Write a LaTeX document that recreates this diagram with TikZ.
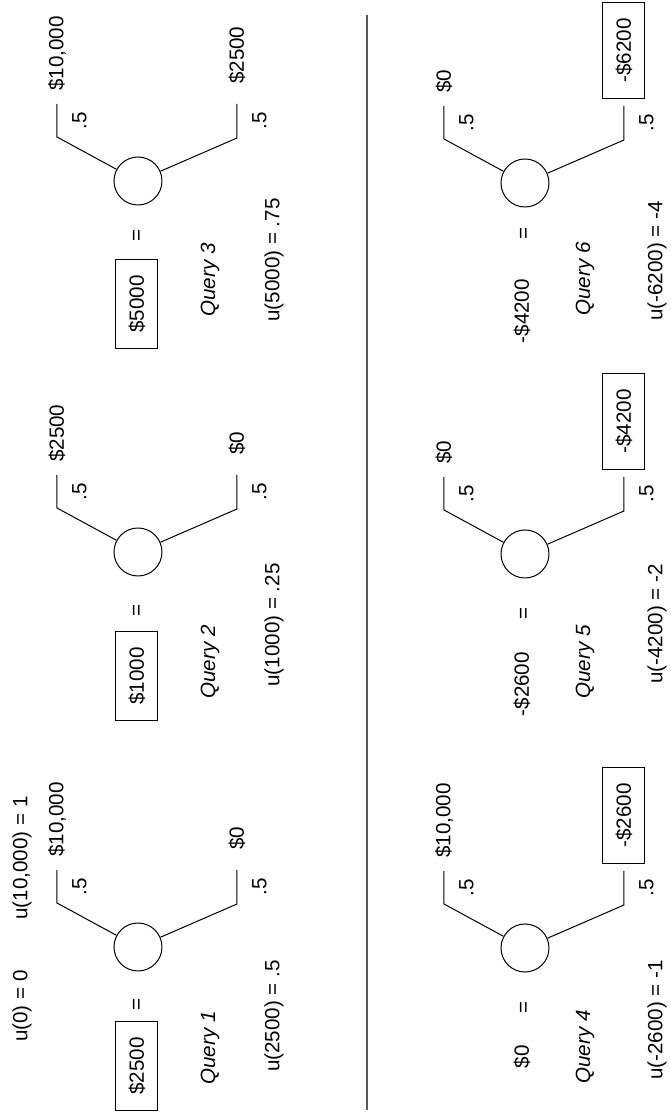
\documentclass[tikz,border=0pt]{standalone}
\usepackage{fontspec}
\setmainfont{Liberation Sans}
\usetikzlibrary{positioning}

\begin{document}
\begin{tikzpicture}[x=0.5pt,y=0.5pt,rotate=90,transform shape,line width=0.5pt,
        font=\fontsize{10.3pt}{12pt}\selectfont,
        chance/.style={draw,circle,minimum size=24pt,inner sep=0pt},
        sure/.style={draw,minimum height=21pt,inner xsep=8pt},
        prob/.style={below=4pt},
        query/.style={font=\fontsize{10.3pt}{12pt}\selectfont\itshape}]
    \useasboundingbox (0,0) rectangle (1114,670);
    % utilities fixed at the ends
    \node (u0) at (108,648) {u(0) = 0};
    \node (u10) at (256,648) {u(10,000) = 1};

    % query 1
    \node[sure] (s1) at (48,533) {\$2500};
    \node (eq1) at (110,532) {=};
    \node[chance] (c1) at (167,532) {};
    \coordinate (k1a) at (211,613); \coordinate (e1a) at (244,613);
    \coordinate (k1b) at (210,433); \coordinate (e1b) at (244,433);
    \draw (c1) -- (k1a) -- node[prob] {.5} (e1a);
    \draw (c1) -- (k1b) -- node[prob] {.5} (e1b);
    \node[right=3pt] (o1a) at (e1a) {\$10,000};
    \node[right=6.5pt] (o1b) at (e1b) {\$0};
    \node[query] (q1) at (66,460) {Query 1};
    \node (r1) at (98,396) {u(2500) = .5};

    % query 2
    \node[sure] (s2) at (438,533) {\$1000};
    \node (eq2) at (504,532) {=};
    \node[chance] (c2) at (562,532) {};
    \coordinate (k2a) at (606,613); \coordinate (e2a) at (639,613);
    \coordinate (k2b) at (605,433); \coordinate (e2b) at (639,433);
    \draw (c2) -- (k2a) -- node[prob] {.5} (e2a);
    \draw (c2) -- (k2b) -- node[prob] {.5} (e2b);
    \node[right=3pt] (o2a) at (e2a) {\$2500};
    \node[right=6.5pt] (o2b) at (e2b) {\$0};
    \node[query] (q2) at (452,460) {Query 2};
    \node (r2) at (489,396) {u(1000) = .25};

    % query 3
    \node[sure] (s3) at (810,533) {\$5000};
    \node (eq3) at (879,532) {=};
    \node[chance] (c3) at (933,532) {};
    \coordinate (k3a) at (977,613); \coordinate (e3a) at (1010,613);
    \coordinate (k3b) at (976,433); \coordinate (e3b) at (1010,433);
    \draw (c3) -- (k3a) -- node[prob] {.5} (e3a);
    \draw (c3) -- (k3b) -- node[prob] {.5} (e3b);
    \node[right=3pt] (o3a) at (e3a) {\$10,000};
    \node[right=6.5pt] (o3b) at (e3b) {\$2500};
    \node[query] (q3) at (834,460) {Query 3};
    \node (r3) at (854,396) {u(5000) = .75};

    \draw[black!65,line width=0.9pt] (4,303) -- (1099,303);

    % query 4
    \node[left] (s4) at (76,148) {\$0};
    \node (eq4) at (107,145) {=};
    \node[chance] (c4) at (166,145) {};
    \coordinate (k4a) at (210,226); \coordinate (e4a) at (243,226);
    \coordinate (k4b) at (209,46); \coordinate (e4b) at (243,46);
    \draw (c4) -- (k4a) -- node[prob] {.5} (e4a);
    \draw (c4) -- (k4b) -- node[prob] {.5} (e4b);
    \node[right=3pt] (o4a) at (e4a) {\$10,000};
    \node[sure,right=3.5pt] (o4b) at (e4b) {-\$2600};
    \node[query] (q4) at (67,85) {Query 4};
    \node (r4) at (94,13) {u(-2600) = -1};

    % query 5
    \node[left] (s5) at (469,148) {-\$2600};
    \node (eq5) at (501,145) {=};
    \node[chance] (c5) at (560,145) {};
    \coordinate (k5a) at (604,226); \coordinate (e5a) at (637,226);
    \coordinate (k5b) at (603,46); \coordinate (e5b) at (637,46);
    \draw (c5) -- (k5a) -- node[prob] {.5} (e5a);
    \draw (c5) -- (k5b) -- node[prob] {.5} (e5b);
    \node[right=3pt] (o5a) at (e5a) {\$0};
    \node[sure,right=3.5pt] (o5b) at (e5b) {-\$4200};
    \node[query] (q5) at (452,85) {Query 5};
    \node (r5) at (490,13) {u(-4200) = -2};

    % query 6
    \node[left] (s6) at (842,148) {-\$4200};
    \node (eq6) at (881,145) {=};
    \node[chance] (c6) at (931,145) {};
    \coordinate (k6a) at (975,226); \coordinate (e6a) at (1008,226);
    \coordinate (k6b) at (974,46); \coordinate (e6b) at (1008,46);
    \draw (c6) -- (k6a) -- node[prob] {.5} (e6a);
    \draw (c6) -- (k6b) -- node[prob] {.5} (e6b);
    \node[right=3pt] (o6a) at (e6a) {\$0};
    \node[sure,right=3.5pt] (o6b) at (e6b) {-\$6200};
    \node[query] (q6) at (835,85) {Query 6};
    \node (r6) at (853,13) {u(-6200) = -4};
\end{tikzpicture}
\end{document}
